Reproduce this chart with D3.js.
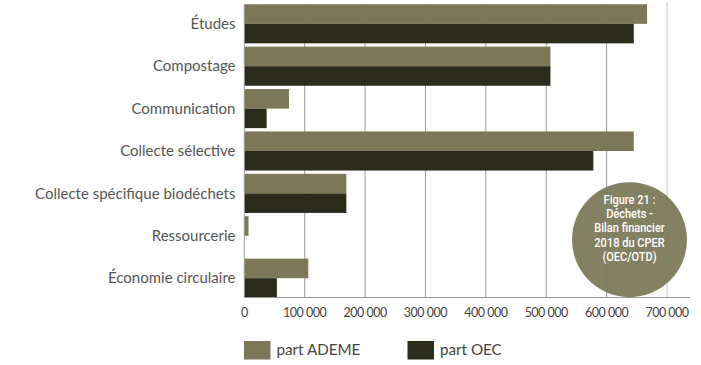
<!DOCTYPE html>
<html><head><meta charset="utf-8">
<script src="https://cdn.jsdelivr.net/npm/d3@7"></script>
<style>
body{margin:0;background:#fff;}
svg{display:block;}
</style></head>
<body>
<svg id="chart" width="701" height="365"></svg>
<script>
const categories = ["Études","Compostage","Communication","Collecte sélective","Collecte spécifique biodéchets","Ressourcerie","Économie circulaire"];
const ademe = [667000, 507000, 74000, 645000, 169000, 7000, 106000];
const oec   = [645000, 507000, 37000, 578000, 169000, 0, 54000];
const seriesNames = ["part ADEME","part OEC"];
const ticks = [0,100000,200000,300000,400000,500000,600000,700000];
const captionLines = ["Figure 21 :","Déchets -","Bilan financier","2018 du CPER","(OEC/OTD)"];

const colA = "#7b7757", colO = "#2b2c1c";
const svg = d3.select("#chart");
const x = d3.scaleLinear().domain([0,700000]).range([244.3,667]);
const y = d3.scaleBand().domain(categories).range([2.6,299.4]).paddingInner(0.078).paddingOuter(0.039);
const axisY = 297.5;

// gridlines
svg.append("g").selectAll("line").data(ticks.slice(1)).join("line")
  .attr("x1",d=>x(d)).attr("x2",d=>x(d))
  .attr("y1",d=>d===700000?2:4).attr("y2",axisY)
  .attr("stroke",d=>d===700000?"#c4c4c4":"#9a9a9a").attr("stroke-width",1);

// bars
const g = svg.append("g");
categories.forEach((c,i)=>{
  const bh = y.bandwidth()/2;
  g.append("rect").attr("x",x(0)).attr("y",y(c)).attr("width",x(ademe[i])-x(0)).attr("height",bh)
    .attr("fill",colA);
  if(oec[i]>0) g.append("rect").attr("x",x(0)).attr("y",y(c)+bh).attr("width",x(oec[i])-x(0)).attr("height",bh)
    .attr("fill",colO);
});

// axis line
svg.append("line").attr("x1",x(0)).attr("x2",690).attr("y1",axisY).attr("y2",axisY).attr("stroke","#9a9a9a");
svg.append("line").attr("x1",x(0)).attr("x2",x(0)).attr("y1",4).attr("y2",axisY).attr("stroke","#9a9a9a");

// tick labels
const fmt = d=> d===0?"0":d3.format(",")(d).replace(/,/g,"\u00a0");
svg.append("g").selectAll("text").data(ticks).join("text")
  .attr("x",d=>x(d)).attr("y",313).attr("dy","0.35em").attr("text-anchor","middle")
  .attr("font-family","Lato, sans-serif").attr("font-size",12.5).attr("letter-spacing",-0.5)
  .attr("fill","#444").text(fmt);

// category labels
svg.append("g").selectAll("text").data(categories).join("text")
  .attr("x",235.5).attr("y",d=>y(d)+y.bandwidth()/2).attr("dy","0.35em").attr("text-anchor","end")
  .attr("font-family","Lato, sans-serif").attr("font-size",15).attr("fill","#555").text(d=>d);

// legend
const leg = svg.append("g");
[[244,colA],[407.5,colO]].forEach((p,i)=>{
  leg.append("rect").attr("x",p[0]).attr("y",341).attr("width",26.5).attr("height",18.5).attr("fill",p[1]);
  leg.append("text").attr("x",p[0]+32.5).attr("y",350).attr("dy","0.35em")
    .attr("font-family","Lato, sans-serif").attr("font-size",15.2).attr("fill","#444").text(seriesNames[i]);
});

// caption circle
const cx=629.5, cy=239.7;
svg.append("circle").attr("cx",cx).attr("cy",cy).attr("r",57.5).attr("fill",colA).attr("fill-opacity",0.93);
svg.append("g").attr("transform",`translate(${cx},0) scale(0.92,1)`)
  .selectAll("text").data(captionLines).join("text")
  .attr("x",0).attr("y",(d,i)=>199.5+i*14.3).attr("dy","0.35em").attr("text-anchor","middle")
  .attr("font-family","Roboto, sans-serif").attr("font-size",12).attr("font-weight",500)
  .attr("fill","#fff").text(d=>d);
</script>
</body></html>
